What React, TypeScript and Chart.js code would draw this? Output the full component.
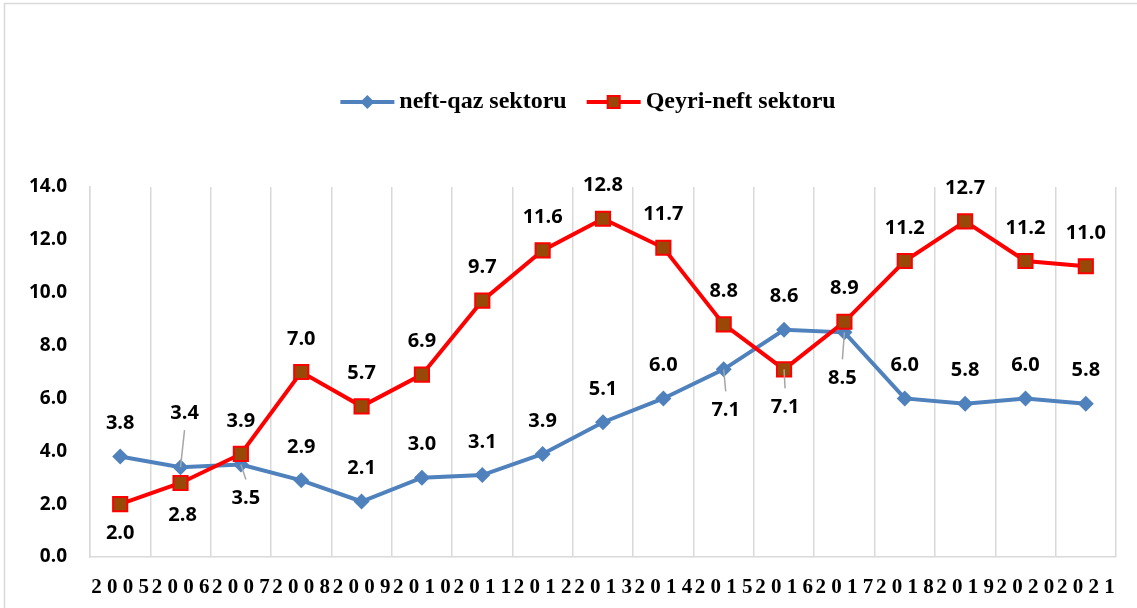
import React, { useEffect, useRef } from 'react';
import { Chart, registerables } from 'chart.js';

Chart.register(...registerables);

const years = ['2005', '2006', '2007', '2008', '2009', '2010', '2011', '2012', '2013', '2014', '2015', '2016', '2017', '2018', '2019', '2020', '2021'];
const xTickLabels = ['2 0 0 5', '2 0 0 6', '2 0 0 7', '2 0 0 8', '2 0 0 9', '2 0 1 0', '2 0 1 1', '2 0 1 2', '2 0 1 3', '2 0 1 4', '2 0 1 5', '2 0 1 6', '2 0 1 7', '2 0 1 8', '2 0 1 9', '2 0 2 0', '2 0 2 1'];
const oilGas = [3.8, 3.4, 3.5, 2.9, 2.1, 3.0, 3.1, 3.9, 5.1, 6.0, 7.1, 8.6, 8.5, 6.0, 5.8, 6.0, 5.8];
const nonOil = [2.0, 2.8, 3.9, 7.0, 5.7, 6.9, 9.7, 11.6, 12.8, 11.7, 8.8, 7.1, 8.9, 11.2, 12.7, 11.2, 11.0];
const seriesNames = ['neft-qaz sektoru', 'Qeyri-neft sektoru'];
const yTicks = [0, 2, 4, 6, 8, 10, 12, 14];

// label placement (dx, dy from point, leader line)
type Place = [number, number, boolean];
const blueOffsets: Record<number, Place> = {
  1: [4, -54, true],
  2: [5, 34, true],
  10: [2, 41, true],
  12: [-2, 46, true],
};
const redOffsets: Record<number, Place> = {
  0: [0, 29, false],
  1: [2, 32, false],
  11: [1, 38, true],
};

const BLUE = '#4F81BD';
const RED = '#FF0000';
const BROWN = '#984807';
const GRID = '#D9D9D9';

const labelFont = '700 20px "Open Sans"';
const legendFont = '700 24px "Liberation Serif"';

const decorPlugin = {
  id: 'decor',
  beforeDraw(chart: any) {
    const ctx = chart.ctx;
    ctx.save();
    ctx.fillStyle = '#fff';
    ctx.fillRect(0, 0, chart.width, chart.height);
    ctx.strokeStyle = GRID;
    ctx.lineWidth = 1.5;
    ctx.beginPath();
    ctx.moveTo(4.5, chart.height);
    ctx.lineTo(4.5, 3.5);
    ctx.lineTo(chart.width, 3.5);
    ctx.stroke();
    ctx.restore();
  },
  afterDatasetsDraw(chart: any) {
    const ctx = chart.ctx;
    ctx.save();
    const drawSet = (dsIndex: number, values: number[], offsets: Record<number, Place>) => {
      const meta = chart.getDatasetMeta(dsIndex);
      values.forEach((v, i) => {
        const pt = meta.data[i];
        const place = offsets[i] || [0, -33, false];
        const lx = pt.x + place[0];
        const ly = pt.y + place[1];
        if (place[2]) {
          ctx.strokeStyle = '#A6A6A6';
          ctx.lineWidth = 1.5;
          ctx.beginPath();
          ctx.moveTo(pt.x, pt.y);
          ctx.lineTo(lx, ly + (place[1] < 0 ? 17 : -19));
          ctx.stroke();
        }
        ctx.fillStyle = '#000';
        ctx.font = labelFont;
        ctx.textAlign = 'center';
        ctx.textBaseline = 'middle';
        ctx.fillText(v.toFixed(1), lx, ly);
      });
    };
    drawSet(0, oilGas, blueOffsets);
    drawSet(1, nonOil, redOffsets);
    ctx.restore();
  },
  afterDraw(chart: any) {
    const ctx = chart.ctx;
    ctx.save();
    ctx.font = legendFont;
    const lineLen = 54;
    const gapText = 5;
    const gapItems = 20;
    const w0 = ctx.measureText(seriesNames[0]).width;
    const w1 = ctx.measureText(seriesNames[1]).width;
    const total = lineLen + gapText + w0 + gapItems + lineLen + gapText + w1;
    const cy = 102;
    let x = 588 - total / 2;
    // blue item
    ctx.strokeStyle = BLUE;
    ctx.lineWidth = 4;
    ctx.beginPath();
    ctx.moveTo(x, cy);
    ctx.lineTo(x + lineLen, cy);
    ctx.stroke();
    ctx.fillStyle = BLUE;
    const mx = x + lineLen / 2;
    ctx.beginPath();
    ctx.moveTo(mx, cy - 7);
    ctx.lineTo(mx + 7, cy);
    ctx.lineTo(mx, cy + 7);
    ctx.lineTo(mx - 7, cy);
    ctx.closePath();
    ctx.fill();
    ctx.fillStyle = '#000';
    ctx.textAlign = 'left';
    ctx.textBaseline = 'middle';
    ctx.fillText(seriesNames[0], x + lineLen + gapText, cy);
    x += lineLen + gapText + w0 + gapItems;
    // red item
    ctx.strokeStyle = RED;
    ctx.lineWidth = 4;
    ctx.beginPath();
    ctx.moveTo(x, cy);
    ctx.lineTo(x + lineLen, cy);
    ctx.stroke();
    const rx = x + lineLen / 2;
    ctx.fillStyle = BROWN;
    ctx.fillRect(rx - 6, cy - 6, 12, 12);
    ctx.lineWidth = 2;
    ctx.strokeRect(rx - 6, cy - 6, 12, 12);
    ctx.fillStyle = '#000';
    ctx.fillText(seriesNames[1], x + lineLen + gapText, cy);
    ctx.restore();
  },
};

export default function App() {
  const canvasRef = useRef<HTMLCanvasElement | null>(null);

  useEffect(() => {
    const canvas = canvasRef.current;
    if (!canvas) return;
    const chart = new Chart(canvas, {
      type: 'line',
      data: {
        labels: years,
        datasets: [
          {
            label: seriesNames[0],
            data: oilGas,
            borderColor: BLUE,
            backgroundColor: BLUE,
            borderWidth: 4,
            pointStyle: 'rectRot',
            pointRadius: 8,
            pointBorderWidth: 0,
            pointBackgroundColor: BLUE,
            pointBorderColor: BLUE,
            tension: 0,
            order: 1,
          },
          {
            label: seriesNames[1],
            data: nonOil,
            borderColor: RED,
            backgroundColor: BROWN,
            borderWidth: 4,
            pointStyle: 'rect',
            pointRadius: 10,
            pointBorderWidth: 2,
            pointBackgroundColor: BROWN,
            pointBorderColor: RED,
            tension: 0,
            order: 0,
          },
        ],
      },
      options: {
        animation: false,
        responsive: true,
        maintainAspectRatio: false,
        layout: { padding: { top: 187, right: 21, bottom: 0, left: 0 } },
        plugins: {
          legend: { display: false },
          tooltip: { enabled: false },
          title: { display: false },
        },
        scales: {
          x: {
            type: 'category',
            offset: true,
            grid: { offset: true, color: GRID, lineWidth: 1.5, drawTicks: false },
            border: { color: GRID, width: 1.5 },
            ticks: {
              autoSkip: false,
              maxRotation: 0,
              minRotation: 0,
              padding: 18,
              color: '#000',
              font: { family: '"Liberation Serif"', size: 21, weight: 'bold' },
              callback: (_v: any, i: number) => xTickLabels[i],
            },
            afterFit: (scale: any) => {
              scale.height = 51;
            },
          },
          y: {
            min: 0,
            max: 14,
            afterBuildTicks: (scale: any) => {
              scale.ticks = yTicks.map((v) => ({ value: v }));
            },
            grid: { display: false, drawTicks: false },
            border: { color: GRID, width: 1.5 },
            ticks: {
              padding: 23,
              color: '#000',
              font: { family: '"Open Sans"', size: 19, weight: 'bold' },
              callback: (v: any) => Number(v).toFixed(1),
            },
            afterFit: (scale: any) => {
              scale.width = 90;
            },
          },
        },
      },
      plugins: [decorPlugin],
    });
    return () => chart.destroy();
  }, []);

  return (
    <div style={{ position: 'fixed', left: 0, top: 0, width: 1137, height: 608, background: '#fff' }}>
      <canvas ref={canvasRef} />
    </div>
  );
}
